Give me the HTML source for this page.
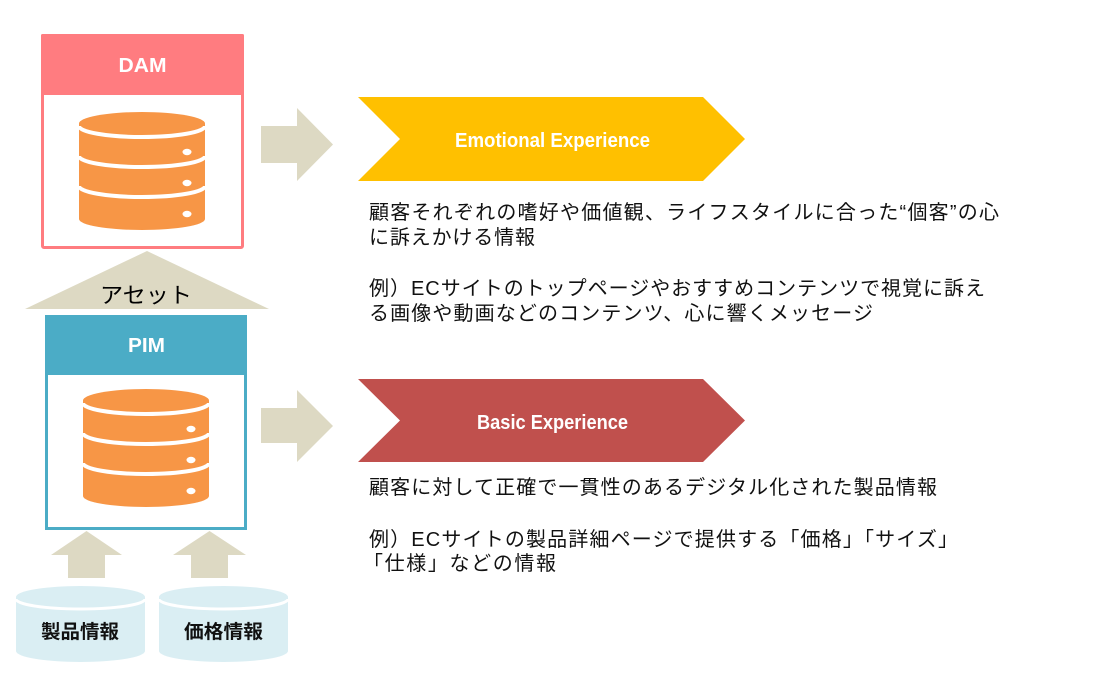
<!DOCTYPE html>
<html><head><meta charset="utf-8"><style>
html,body{margin:0;padding:0;background:#fff;}
svg{display:block;}
.jp{font-family:"Liberation Sans","Noto Sans CJK JP",sans-serif;}
</style></head><body>
<svg width="1104" height="692" viewBox="0 0 1104 692" xmlns="http://www.w3.org/2000/svg">
<rect width="1104" height="692" fill="#fff"/>

<!-- DAM box -->
<rect x="42.5" y="35.5" width="200" height="212" fill="#fff" stroke="#FF7C80" stroke-width="3" rx="1.5"/>
<rect x="41" y="34" width="203" height="61" fill="#FF7C80" rx="1.5"/>
<text x="118.5" y="72" font-family="Liberation Sans, sans-serif" font-weight="bold" font-size="20" fill="#fff" textLength="48" lengthAdjust="spacingAndGlyphs">DAM</text>

<!-- DAM database -->
<g>
<rect x="79" y="123.5" width="126" height="95.5" fill="#F79646"/>
<ellipse cx="142" cy="123.5" rx="63" ry="11.5" fill="#F79646"/>
<ellipse cx="142" cy="219" rx="63" ry="11" fill="#F79646"/>
<path d="M79,126 A63,11 0 0 0 205,126" fill="none" stroke="#fff" stroke-width="4"/>
<path d="M79,156 A63,11 0 0 0 205,156" fill="none" stroke="#fff" stroke-width="4"/>
<path d="M79,186 A63,11 0 0 0 205,186" fill="none" stroke="#fff" stroke-width="4"/>
<ellipse cx="187" cy="152" rx="4.5" ry="3.2" fill="#fff"/>
<ellipse cx="187" cy="183" rx="4.5" ry="3.2" fill="#fff"/>
<ellipse cx="187" cy="214" rx="4.5" ry="3.2" fill="#fff"/>
</g>

<!-- Triangle アセット -->
<polygon points="147,251 269,309 25,309" fill="#DDD9C3"/>
<text class="jp" x="100" y="303" font-size="22" fill="#000" textLength="92" lengthAdjust="spacingAndGlyphs">アセット</text>

<!-- PIM box -->
<rect x="46.5" y="316.5" width="199" height="212" fill="#fff" stroke="#4BACC6" stroke-width="3"/>
<rect x="45" y="315" width="202" height="60" fill="#4BACC6"/>
<text x="128" y="352" font-family="Liberation Sans, sans-serif" font-weight="bold" font-size="20" fill="#fff" textLength="37" lengthAdjust="spacingAndGlyphs">PIM</text>

<!-- PIM database -->
<g transform="translate(4,277)">
<rect x="79" y="123.5" width="126" height="95.5" fill="#F79646"/>
<ellipse cx="142" cy="123.5" rx="63" ry="11.5" fill="#F79646"/>
<ellipse cx="142" cy="219" rx="63" ry="11" fill="#F79646"/>
<path d="M79,126 A63,11 0 0 0 205,126" fill="none" stroke="#fff" stroke-width="4"/>
<path d="M79,156 A63,11 0 0 0 205,156" fill="none" stroke="#fff" stroke-width="4"/>
<path d="M79,186 A63,11 0 0 0 205,186" fill="none" stroke="#fff" stroke-width="4"/>
<ellipse cx="187" cy="152" rx="4.5" ry="3.2" fill="#fff"/>
<ellipse cx="187" cy="183" rx="4.5" ry="3.2" fill="#fff"/>
<ellipse cx="187" cy="214" rx="4.5" ry="3.2" fill="#fff"/>
</g>

<!-- Up arrows -->
<polygon points="86.5,531 122,555 105,555 105,578 68,578 68,555 51,555" fill="#DDD9C3"/>
<polygon points="209.5,531 246,555 228,555 228,578 191,578 191,555 173,555" fill="#DDD9C3"/>

<!-- Small cylinders -->
<g>
<rect x="16" y="597" width="129" height="54" fill="#DAEEF3"/>
<ellipse cx="80.5" cy="597" rx="64.5" ry="11" fill="#DAEEF3"/>
<ellipse cx="80.5" cy="651" rx="64.5" ry="11" fill="#DAEEF3"/>
<path d="M16,599 A64.5,10 0 0 0 145,599" fill="none" stroke="#fff" stroke-width="3"/>
<text class="jp" x="41" y="638" font-size="19" font-weight="bold" fill="#111" textLength="78" lengthAdjust="spacingAndGlyphs">製品情報</text>
</g>
<g>
<rect x="159" y="597" width="129" height="54" fill="#DAEEF3"/>
<ellipse cx="223.5" cy="597" rx="64.5" ry="11" fill="#DAEEF3"/>
<ellipse cx="223.5" cy="651" rx="64.5" ry="11" fill="#DAEEF3"/>
<path d="M159,599 A64.5,10 0 0 0 288,599" fill="none" stroke="#fff" stroke-width="3"/>
<text class="jp" x="184" y="638" font-size="19" font-weight="bold" fill="#111" textLength="79" lengthAdjust="spacingAndGlyphs">価格情報</text>
</g>

<!-- Right arrows -->
<polygon points="261,126 297,126 297,108 333,144.5 297,181 297,163 261,163" fill="#DDD9C3"/>
<polygon points="261,408 297,408 297,390 333,426 297,462 297,443 261,443" fill="#DDD9C3"/>

<!-- Chevrons -->
<polygon points="358,97 703,97 745,139 703,181 358,181 400,139" fill="#FFC000"/>
<text x="455" y="147" font-family="Liberation Sans, sans-serif" font-weight="bold" font-size="20" fill="#fff" textLength="195" lengthAdjust="spacingAndGlyphs">Emotional Experience</text>

<polygon points="358,379 703,379 745,420.5 703,462 358,462 400,420.5" fill="#C0504D"/>
<text x="477" y="429" font-family="Liberation Sans, sans-serif" font-weight="bold" font-size="20" fill="#fff" textLength="151" lengthAdjust="spacingAndGlyphs">Basic Experience</text>

<!-- Body text -->
<g class="jp" font-size="20" fill="#111">
<text x="369" y="219" textLength="630" lengthAdjust="spacing">顧客それぞれの嗜好や価値観、ライフスタイルに合った“個客”の心</text>
<text x="369" y="244" textLength="166" lengthAdjust="spacing">に訴えかける情報</text>
<text x="369" y="295" textLength="616" lengthAdjust="spacing">例）ECサイトのトップページやおすすめコンテンツで視覚に訴え</text>
<text x="369" y="320" textLength="504" lengthAdjust="spacing">る画像や動画などのコンテンツ、心に響くメッセージ</text>
<text x="369" y="494" textLength="568" lengthAdjust="spacing">顧客に対して正確で一貫性のあるデジタル化された製品情報</text>
<text x="369" y="546" textLength="589" lengthAdjust="spacing">例）ECサイトの製品詳細ページで提供する「価格」「サイズ」</text>
<text x="363" y="570" textLength="193" lengthAdjust="spacing">「仕様」などの情報</text>
</g>
</svg>
</body></html>
